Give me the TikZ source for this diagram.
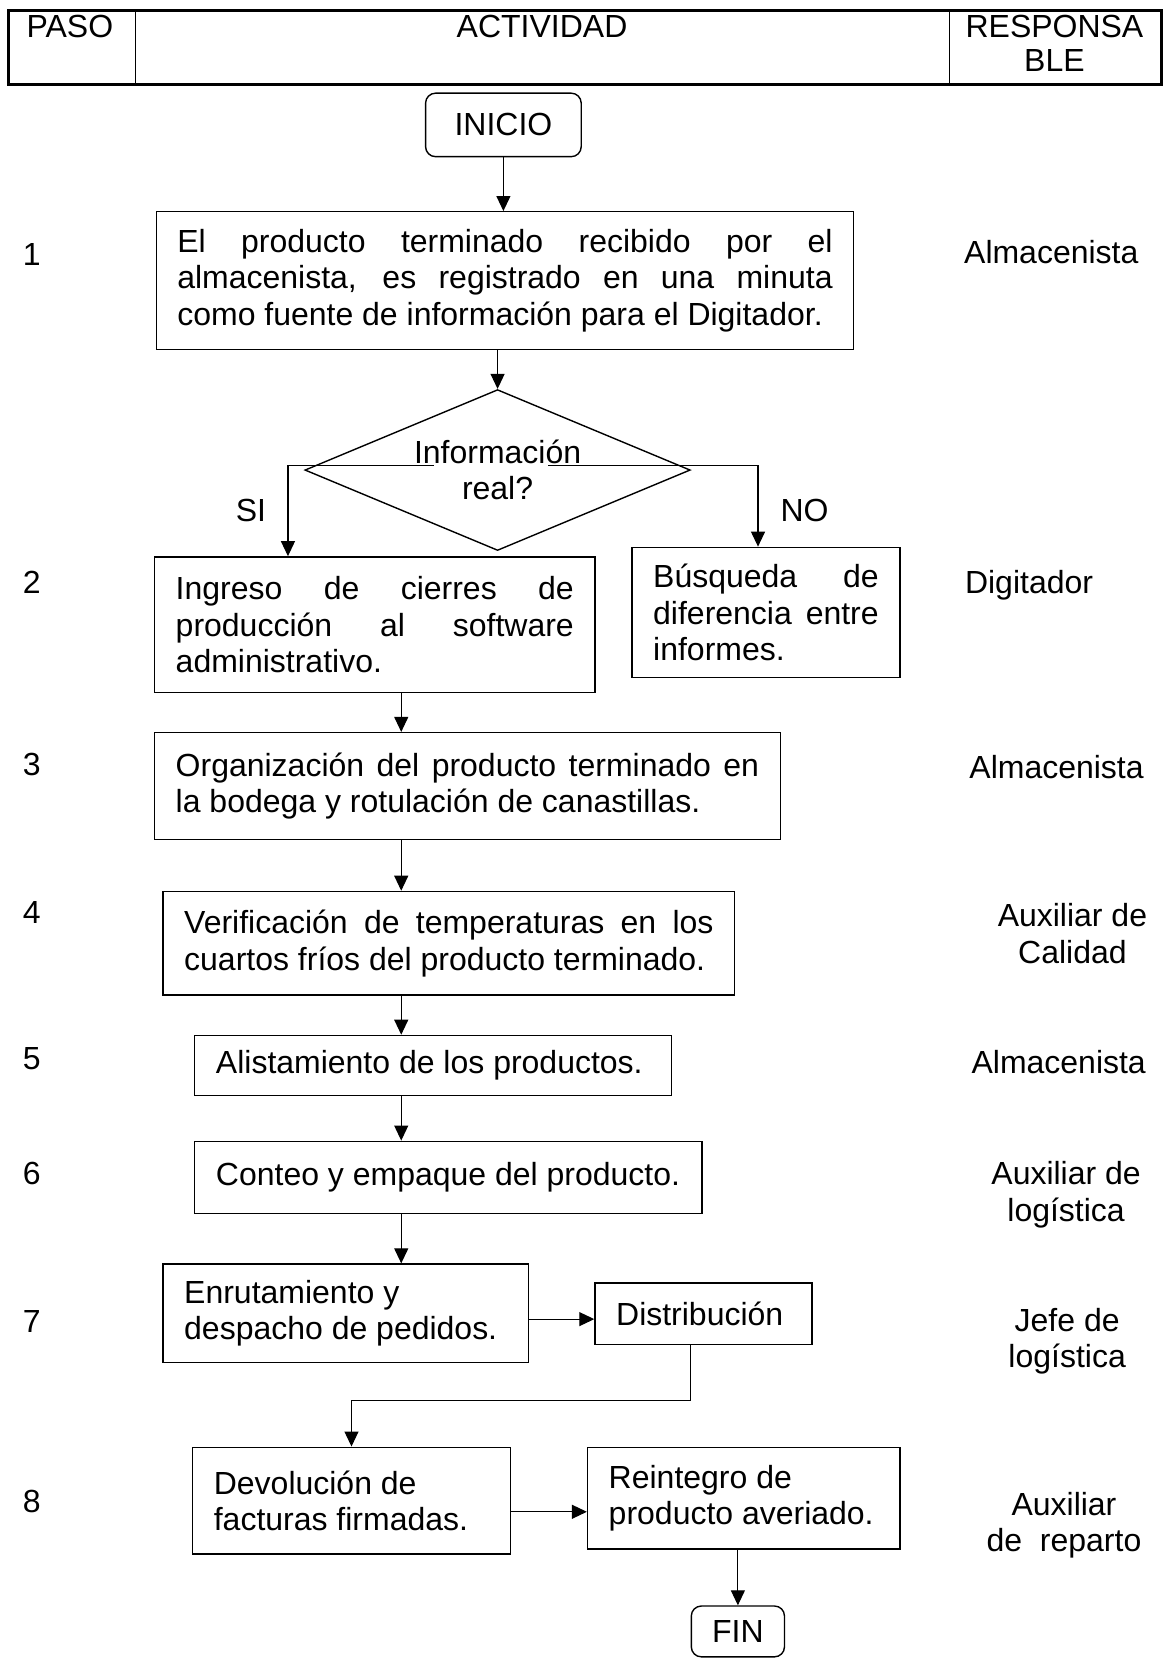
\documentclass[tikz,border=0pt]{standalone}
\usepackage{fontspec}
\setmainfont{Liberation Sans}
\usetikzlibrary{shapes.geometric,arrows.meta}
\newdimen\pxu
\pxu=0.52955pt
\setlength{\parindent}{0pt}
\hyphenpenalty=10000
\exhyphenpenalty=10000
% a line stretched to the full text width (justified line)
\newcommand{\jfull}[1]{\makebox[\hsize][s]{\spaceskip=0pt\xspaceskip=0pt #1}}
\tikzset{
  basefont/.style={font=\fontsize{16}{18.3}\selectfont},
  txt/.style={basefont, inner sep=0pt},
  lbl/.style={basefont, inner sep=0pt, align=center, anchor=north},
  sz/.style n args={3}{minimum width=#1\pxu, minimum height=#2\pxu, text width=#3\pxu},
  proc/.style={draw, line width=0.7pt, rectangle, inner sep=0pt, basefont,
    execute at begin node={\raggedright\spaceskip=0pt\xspaceskip=0pt}},
  term/.style={draw, line width=0.7pt, rectangle, rounded corners=5pt, inner sep=0pt, basefont},
  decision/.style={draw, diamond, line width=0.7pt, inner sep=0pt, align=center, basefont},
  link/.style={line width=0.55pt},
  arr/.style={line width=0.55pt, -{Triangle[length=7.5pt,width=7pt]}},
}
\begin{document}
\begin{tikzpicture}[x=\pxu, y=-\pxu]
\useasboundingbox (0,0) rectangle (1100,1568);

% header table
\draw[line width=0.6pt] (128,10) -- (128,80) (897,10) -- (897,80);
\draw[line width=1.3pt] (8,10) rectangle (1097,80);
\node[txt, anchor=north] (hpaso) at (66,14) {PASO};
\node[txt, anchor=north] (hact) at (512,14) {ACTIVIDAD};
\node[lbl, font=\fontsize{16}{17}\selectfont] (hresp) at (996,14) {RESPONSA\\BLE};

% step numbers
\node[txt] (n1) at (30,240) {1};
\node[txt] (n2) at (30,550) {2};
\node[txt] (n3) at (30,722) {3};
\node[txt] (n4) at (30,862) {4};
\node[txt] (n5) at (30,1000) {5};
\node[txt] (n6) at (30,1108) {6};
\node[txt] (n7) at (30,1248) {7};
\node[txt] (n8) at (30,1418) {8};

% responsible roles
\node[lbl] (r1) at (993,227) {Almacenista};
\node[lbl] (r2) at (972,538) {Digitador};
\node[lbl] (r3) at (998,713) {Almacenista};
\node[lbl] (r4) at (1013,853) {Auxiliar de\\Calidad};
\node[lbl] (r5) at (1000,992) {Almacenista};
\node[lbl] (r6) at (1007,1097) {Auxiliar de\\logística};
\node[lbl] (r7) at (1008,1235) {Jefe de\\logística};
\node[lbl] (r8) at (1005,1409) {Auxiliar\\de\ \ reparto};

% flow
\node[term, minimum width=147\pxu, minimum height=60\pxu] (inicio) at (475.5,118) {INICIO};

\node[proc, sz={658}{130}{619}] (b1) at (477,265)
  {\jfull{El producto terminado recibido por el}\\
   \jfull{almacenista, es registrado en una minuta}\\
   como fuente de información para el Digitador.};

\node[decision, aspect=2.4, minimum width=364\pxu, minimum height=152\pxu] (dec) at (470,444)
  {Información\\real?};

\node[proc, sz={416}{128}{376}] (b2) at (354,590)
  {\jfull{Ingreso de cierres de}\\
   \jfull{producción al software}\\
   administrativo.};

\node[proc, sz={253}{123}{213}] (busq) at (723.5,578.5)
  {\jfull{Búsqueda de}\\
   \jfull{diferencia entre}\\
   informes.};

\node[proc, sz={591}{101}{551}] (b3) at (441.5,742.5)
  {\jfull{Organización del producto terminado en}\\
   la bodega y rotulación de canastillas.};

\node[proc, sz={540}{98}{500}] (b4) at (424,891)
  {\jfull{Verificación de temperaturas en los}\\
   cuartos fríos del producto terminado.};

\node[proc, sz={450}{57}{410}] (b5) at (409,1006.5) {Alistamiento de los productos.};

\node[proc, sz={479}{68}{439}] (b6) at (423.5,1112) {Conteo y empaque del producto.};

\node[proc, sz={345}{93}{305}] (b7) at (326.5,1240.5) {Enrutamiento y\\despacho de pedidos.};

\node[proc, sz={205}{58}{165}] (dist) at (664.5,1241) {Distribución};

\node[proc, sz={300}{101}{260}] (b8) at (332,1417.5) {Devolución de\\facturas firmadas.};

\node[proc, sz={295}{96}{255}] (reint) at (702.5,1415) {Reintegro de\\producto averiado.};

\node[term, minimum width=88\pxu, minimum height=48\pxu] (fin) at (697,1541) {FIN};

% branch labels
\node[txt] (si) at (237,482) {SI};
\node[txt] (no) at (760,482) {NO};

% routing points
\coordinate (siL) at (410,440);
\coordinate (siC) at (272,440);
\coordinate (noR) at (518,440);
\coordinate (noC) at (716,440);
\coordinate (colA) at (379,0);
\coordinate (rowA) at (0,1246);
\coordinate (colB) at (652,0);
\coordinate (rowB) at (0,1323);
\coordinate (rowC) at (0,1428);

% connectors
\draw[arr] (inicio.south) -- (inicio.south |- b1.north);
\draw[arr] (dec.north |- b1.south) -- (dec.north);
\draw[arr] (siL) -- (siC) -- (siC |- b2.north);
\draw[arr] (noR) -- (noC) -- (noC |- busq.north);
\draw[arr] (colA |- b2.south) -- (colA |- b3.north);
\draw[arr] (colA |- b3.south) -- (colA |- b4.north);
\draw[arr] (colA |- b4.south) -- (colA |- b5.north);
\draw[arr] (colA |- b5.south) -- (colA |- b6.north);
\draw[arr] (colA |- b6.south) -- (colA |- b7.north);
\draw[arr] (rowA -| b7.east) -- (rowA -| dist.west);
\draw[arr] (colB |- dist.south) -- (colB |- rowB) -- (b8.north |- rowB) -- (b8.north);
\draw[arr] (rowC -| b8.east) -- (rowC -| reint.west);
\draw[arr] (fin.north |- reint.south) -- (fin.north);
\end{tikzpicture}
\end{document}
